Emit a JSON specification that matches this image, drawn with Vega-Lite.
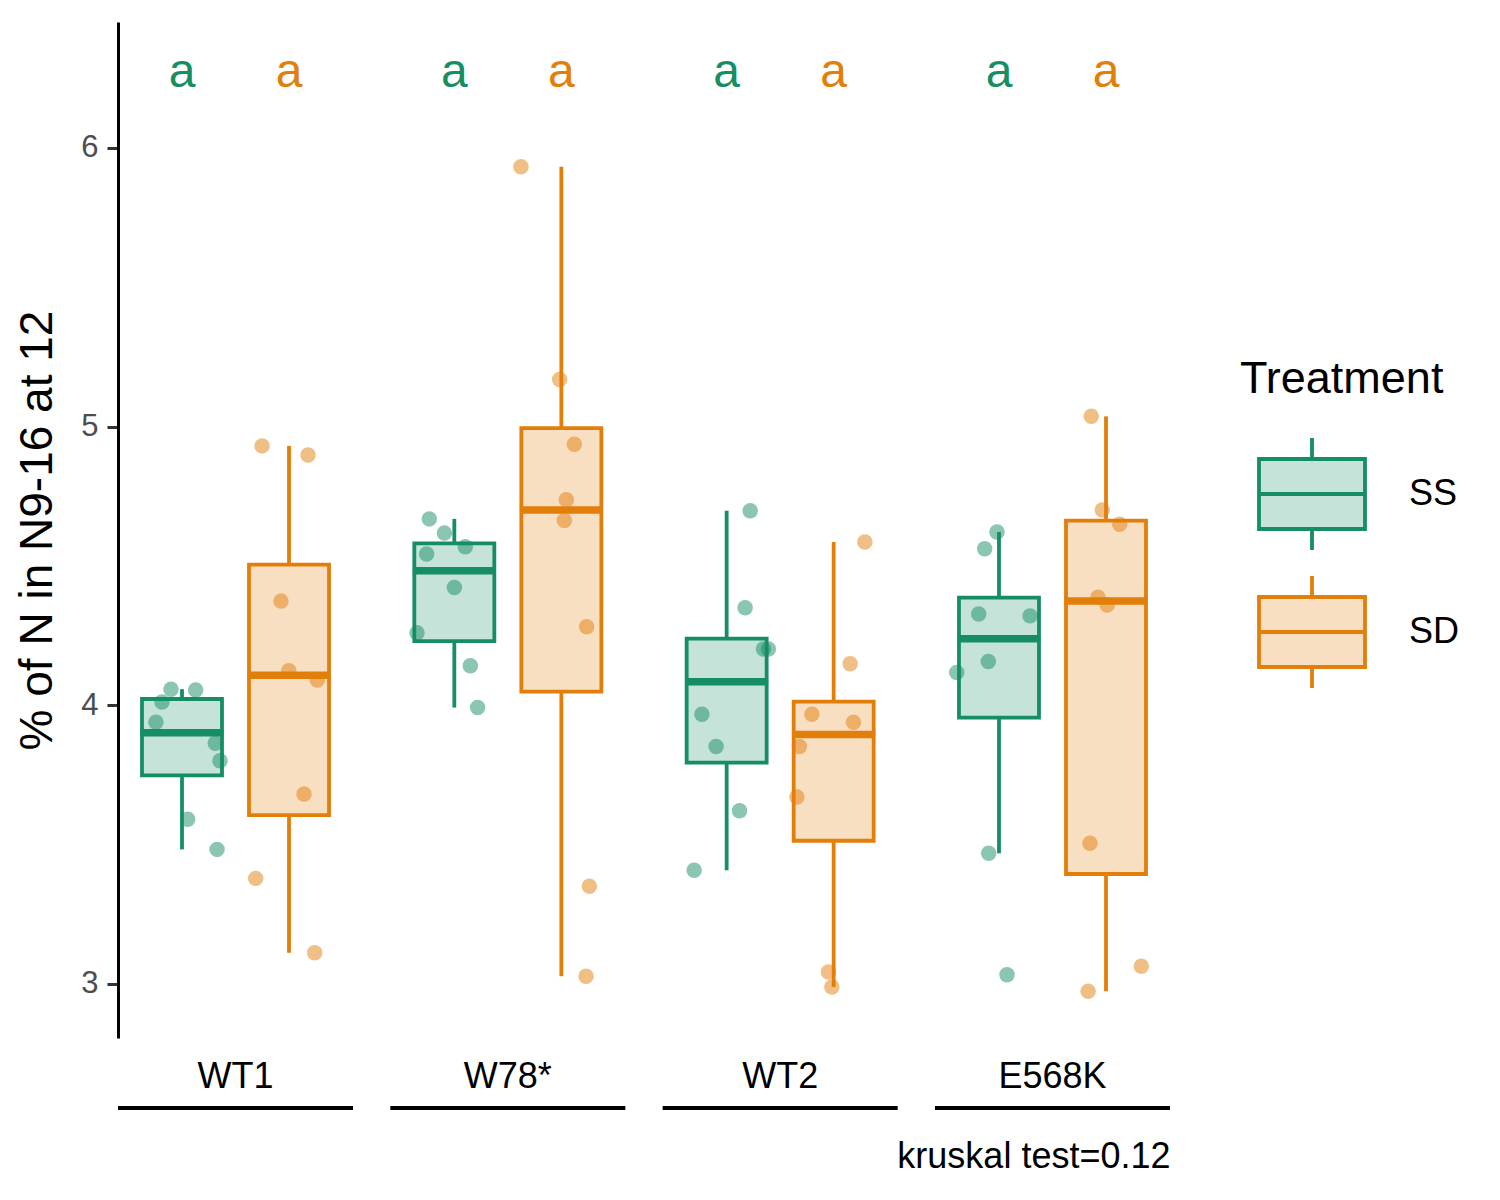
{
  "$schema": "https://vega.github.io/schema/vega-lite/v6.json",
  "width": 1052,
  "height": 1016,
  "autosize": {"type": "none"},
  "padding": {"left": 118, "top": 22, "right": 330, "bottom": 162},
  "config": {
    "font": "Liberation Sans",
    "view": {"stroke": null},
    "axis": {"grid": false}
  },
  "data": {
    "values": [
      {"genotype": "WT1", "Treatment": "SS", "xo": -0.549, "value": 4.058},
      {"genotype": "WT1", "Treatment": "SS", "xo": -0.339, "value": 4.055},
      {"genotype": "WT1", "Treatment": "SS", "xo": -0.626, "value": 4.012},
      {"genotype": "WT1", "Treatment": "SS", "xo": -0.677, "value": 3.939},
      {"genotype": "WT1", "Treatment": "SS", "xo": -0.172, "value": 3.864},
      {"genotype": "WT1", "Treatment": "SS", "xo": -0.132, "value": 3.801},
      {"genotype": "WT1", "Treatment": "SS", "xo": -0.407, "value": 3.591},
      {"genotype": "WT1", "Treatment": "SS", "xo": -0.157, "value": 3.483},
      {"genotype": "WT1", "Treatment": "SD", "xo": 0.226, "value": 4.931},
      {"genotype": "WT1", "Treatment": "SD", "xo": 0.617, "value": 4.898},
      {"genotype": "WT1", "Treatment": "SD", "xo": 0.387, "value": 4.374},
      {"genotype": "WT1", "Treatment": "SD", "xo": 0.453, "value": 4.124},
      {"genotype": "WT1", "Treatment": "SD", "xo": 0.696, "value": 4.091},
      {"genotype": "WT1", "Treatment": "SD", "xo": 0.583, "value": 3.682},
      {"genotype": "WT1", "Treatment": "SD", "xo": 0.172, "value": 3.379},
      {"genotype": "WT1", "Treatment": "SD", "xo": 0.674, "value": 3.112},
      {"genotype": "W78*", "Treatment": "SS", "xo": -0.668, "value": 4.669},
      {"genotype": "W78*", "Treatment": "SS", "xo": -0.540, "value": 4.618},
      {"genotype": "W78*", "Treatment": "SS", "xo": -0.691, "value": 4.543},
      {"genotype": "W78*", "Treatment": "SS", "xo": -0.362, "value": 4.569},
      {"genotype": "W78*", "Treatment": "SS", "xo": -0.455, "value": 4.423},
      {"genotype": "W78*", "Treatment": "SS", "xo": -0.773, "value": 4.260},
      {"genotype": "W78*", "Treatment": "SS", "xo": -0.319, "value": 4.142},
      {"genotype": "W78*", "Treatment": "SS", "xo": -0.257, "value": 3.992},
      {"genotype": "W78*", "Treatment": "SD", "xo": 0.112, "value": 5.933},
      {"genotype": "W78*", "Treatment": "SD", "xo": 0.441, "value": 5.169},
      {"genotype": "W78*", "Treatment": "SD", "xo": 0.566, "value": 4.937},
      {"genotype": "W78*", "Treatment": "SD", "xo": 0.498, "value": 4.738},
      {"genotype": "W78*", "Treatment": "SD", "xo": 0.481, "value": 4.663},
      {"genotype": "W78*", "Treatment": "SD", "xo": 0.671, "value": 4.282},
      {"genotype": "W78*", "Treatment": "SD", "xo": 0.694, "value": 3.351},
      {"genotype": "W78*", "Treatment": "SD", "xo": 0.666, "value": 3.028},
      {"genotype": "WT2", "Treatment": "SS", "xo": -0.255, "value": 4.698},
      {"genotype": "WT2", "Treatment": "SS", "xo": -0.298, "value": 4.350},
      {"genotype": "WT2", "Treatment": "SS", "xo": -0.142, "value": 4.202},
      {"genotype": "WT2", "Treatment": "SS", "xo": -0.100, "value": 4.202},
      {"genotype": "WT2", "Treatment": "SS", "xo": -0.666, "value": 3.968},
      {"genotype": "WT2", "Treatment": "SS", "xo": -0.545, "value": 3.852},
      {"genotype": "WT2", "Treatment": "SS", "xo": -0.346, "value": 3.622},
      {"genotype": "WT2", "Treatment": "SS", "xo": -0.732, "value": 3.408},
      {"genotype": "WT2", "Treatment": "SD", "xo": 0.721, "value": 4.586},
      {"genotype": "WT2", "Treatment": "SD", "xo": 0.596, "value": 4.149},
      {"genotype": "WT2", "Treatment": "SD", "xo": 0.270, "value": 3.968},
      {"genotype": "WT2", "Treatment": "SD", "xo": 0.624, "value": 3.939},
      {"genotype": "WT2", "Treatment": "SD", "xo": 0.164, "value": 3.852},
      {"genotype": "WT2", "Treatment": "SD", "xo": 0.142, "value": 3.671},
      {"genotype": "WT2", "Treatment": "SD", "xo": 0.411, "value": 3.043},
      {"genotype": "WT2", "Treatment": "SD", "xo": 0.440, "value": 2.989},
      {"genotype": "E568K", "Treatment": "SS", "xo": -0.472, "value": 4.622},
      {"genotype": "E568K", "Treatment": "SS", "xo": -0.577, "value": 4.562},
      {"genotype": "E568K", "Treatment": "SS", "xo": -0.628, "value": 4.328},
      {"genotype": "E568K", "Treatment": "SS", "xo": -0.191, "value": 4.321},
      {"genotype": "E568K", "Treatment": "SS", "xo": -0.546, "value": 4.157},
      {"genotype": "E568K", "Treatment": "SS", "xo": -0.815, "value": 4.118},
      {"genotype": "E568K", "Treatment": "SS", "xo": -0.543, "value": 3.469},
      {"genotype": "E568K", "Treatment": "SS", "xo": -0.387, "value": 3.033},
      {"genotype": "E568K", "Treatment": "SD", "xo": 0.330, "value": 5.037},
      {"genotype": "E568K", "Treatment": "SD", "xo": 0.424, "value": 4.701},
      {"genotype": "E568K", "Treatment": "SD", "xo": 0.572, "value": 4.650},
      {"genotype": "E568K", "Treatment": "SD", "xo": 0.387, "value": 4.388},
      {"genotype": "E568K", "Treatment": "SD", "xo": 0.466, "value": 4.360},
      {"genotype": "E568K", "Treatment": "SD", "xo": 0.319, "value": 3.505},
      {"genotype": "E568K", "Treatment": "SD", "xo": 0.756, "value": 3.064},
      {"genotype": "E568K", "Treatment": "SD", "xo": 0.303, "value": 2.974}
    ]
  },
  "layer": [
    {
      "data": {"values": [{"genotype": "WT1"}, {"genotype": "W78*"}, {"genotype": "WT2"}, {"genotype": "E568K"}]},
      "mark": {"type": "rect", "color": "black"},
      "encoding": {
        "x": {
          "field": "genotype", "type": "nominal", "title": "kruskal test=0.12",
          "scale": {"type": "band", "domain": ["WT1", "W78*", "WT2", "E568K"], "paddingInner": 0.137, "paddingOuter": 0},
          "axis": {"domain": false, "ticks": false, "tickSize": 0, "labelFontSize": 36, "labelColor": "black", "labelPadding": 21, "labelAngle": 0, "titleFontSize": 36, "titleFontWeight": "normal", "titleColor": "black", "titleAnchor": "end", "titlePadding": 45}
        },
        "y": {"datum": 2.5622, "type": "quantitative", "title": "% of N in N9-16 at 12"},
        "y2": {"datum": 2.5478}
      }
    },
    {
      "transform": [
        {"joinaggregate": [
          {"op": "q1", "field": "value", "as": "q1"},
          {"op": "q3", "field": "value", "as": "q3"},
          {"op": "median", "field": "value", "as": "med"}
        ], "groupby": ["genotype", "Treatment"]},
        {"filter": "datum.value >= datum.q1 - 1.5 * (datum.q3 - datum.q1) && datum.value <= datum.q3 + 1.5 * (datum.q3 - datum.q1)"},
        {"aggregate": [
          {"op": "min", "field": "value", "as": "lo"},
          {"op": "max", "field": "value", "as": "hi"}
        ], "groupby": ["genotype", "Treatment", "q1", "q3", "med"]}
      ],
      "encoding": {
        "x": {"field": "genotype", "type": "nominal", "title": "kruskal test=0.12"},
        "xOffset": {"field": "Treatment", "type": "nominal", "scale": {"type": "band", "domain": ["SS", "SD"], "paddingInner": 0, "paddingOuter": 0.098}},
        "color": {
          "field": "Treatment", "type": "nominal",
          "scale": {"domain": ["SS", "SD"], "range": ["#168E63", "#E27F0B"]},
          "legend": {
            "title": "Treatment", "orient": "none", "legendX": 1122, "legendY": 335, "padding": 0,
            "titleFontSize": 45, "titleFontWeight": "normal", "titleColor": "black", "titlePadding": 20, "titleLimit": 0,
            "labelFontSize": 36, "labelColor": "black", "labelOffset": 25, "rowPadding": 2, "labelLimit": 0,
            "symbolType": "M-0.757,-0.5H0.757V0.5H-0.757Z M-0.757,0H0.757 M0,-0.5V-0.8 M0,0.5V0.8",
            "symbolSize": 19600, "symbolStrokeWidth": 3.8,
            "encode": {"symbols": {"update": {
              "fill": {"scale": "color", "field": "value"},
              "fillOpacity": {"value": 0.25},
              "stroke": {"scale": "color", "field": "value"},
              "strokeWidth": {"value": 3.8},
              "opacity": {"value": 1}
            }}}
          }
        }
      },
      "layer": [
        {
          "mark": {"type": "rule", "strokeWidth": 3.8},
          "encoding": {"y": {"field": "lo", "type": "quantitative", "title": "% of N in N9-16 at 12"}, "y2": {"field": "q1"}}
        },
        {
          "mark": {"type": "rule", "strokeWidth": 3.8},
          "encoding": {"y": {"field": "q3", "type": "quantitative", "title": "% of N in N9-16 at 12"}, "y2": {"field": "hi"}}
        },
        {
          "mark": {"type": "bar", "width": 80, "fillOpacity": 0.25, "strokeWidth": 3.8},
          "encoding": {
            "y": {"field": "q1", "type": "quantitative", "title": "% of N in N9-16 at 12"},
            "y2": {"field": "q3"},
            "stroke": {"field": "Treatment", "type": "nominal", "scale": {"domain": ["SS", "SD"], "range": ["#168E63", "#E27F0B"]}, "legend": null}
          }
        },
        {
          "mark": {"type": "tick", "thickness": 7.5, "size": 83, "opacity": 1},
          "encoding": {"y": {"field": "med", "type": "quantitative", "title": "% of N in N9-16 at 12"}}
        }
      ]
    },
    {
      "mark": {"type": "point", "filled": true, "opacity": 0.5, "size": 240},
      "encoding": {
        "x": {"field": "genotype", "type": "nominal", "title": "kruskal test=0.12"},
        "xOffset": {"field": "xo", "type": "quantitative", "scale": {"domain": [-1, 1], "range": [0, 235]}},
        "y": {
          "field": "value", "type": "quantitative", "title": "% of N in N9-16 at 12",
          "scale": {"domain": [2.8062, 6.4521], "nice": false, "zero": false},
          "axis": {"values": [3, 4, 5, 6], "format": "d", "domainColor": "black", "domainWidth": 3, "tickColor": "#333333", "tickWidth": 3, "tickSize": 11, "labelFontSize": 31, "labelColor": "#4D4D4D", "labelPadding": 9, "titleFontSize": 46, "titleFontWeight": "normal", "titleColor": "black", "titlePadding": 19}
        },
        "color": {"field": "Treatment", "type": "nominal", "scale": {"domain": ["SS", "SD"], "range": ["#168E63", "#E27F0B"]}}
      }
    },
    {
      "data": {"values": [
        {"genotype": "WT1", "Treatment": "SS", "letter": "a"},
        {"genotype": "WT1", "Treatment": "SD", "letter": "a"},
        {"genotype": "W78*", "Treatment": "SS", "letter": "a"},
        {"genotype": "W78*", "Treatment": "SD", "letter": "a"},
        {"genotype": "WT2", "Treatment": "SS", "letter": "a"},
        {"genotype": "WT2", "Treatment": "SD", "letter": "a"},
        {"genotype": "E568K", "Treatment": "SS", "letter": "a"},
        {"genotype": "E568K", "Treatment": "SD", "letter": "a"}
      ]},
      "mark": {"type": "text", "fontSize": 48, "baseline": "alphabetic", "align": "center"},
      "encoding": {
        "x": {"field": "genotype", "type": "nominal", "title": "kruskal test=0.12"},
        "xOffset": {"field": "Treatment", "type": "nominal", "scale": {"type": "band", "domain": ["SS", "SD"], "paddingInner": 0, "paddingOuter": 0.098}},
        "y": {"datum": 6.22, "type": "quantitative", "title": "% of N in N9-16 at 12"},
        "text": {"field": "letter"},
        "color": {"field": "Treatment", "type": "nominal", "scale": {"domain": ["SS", "SD"], "range": ["#168E63", "#E27F0B"]}}
      }
    }
  ],
  "resolve": {"scale": {"xOffset": "independent"}}
}
